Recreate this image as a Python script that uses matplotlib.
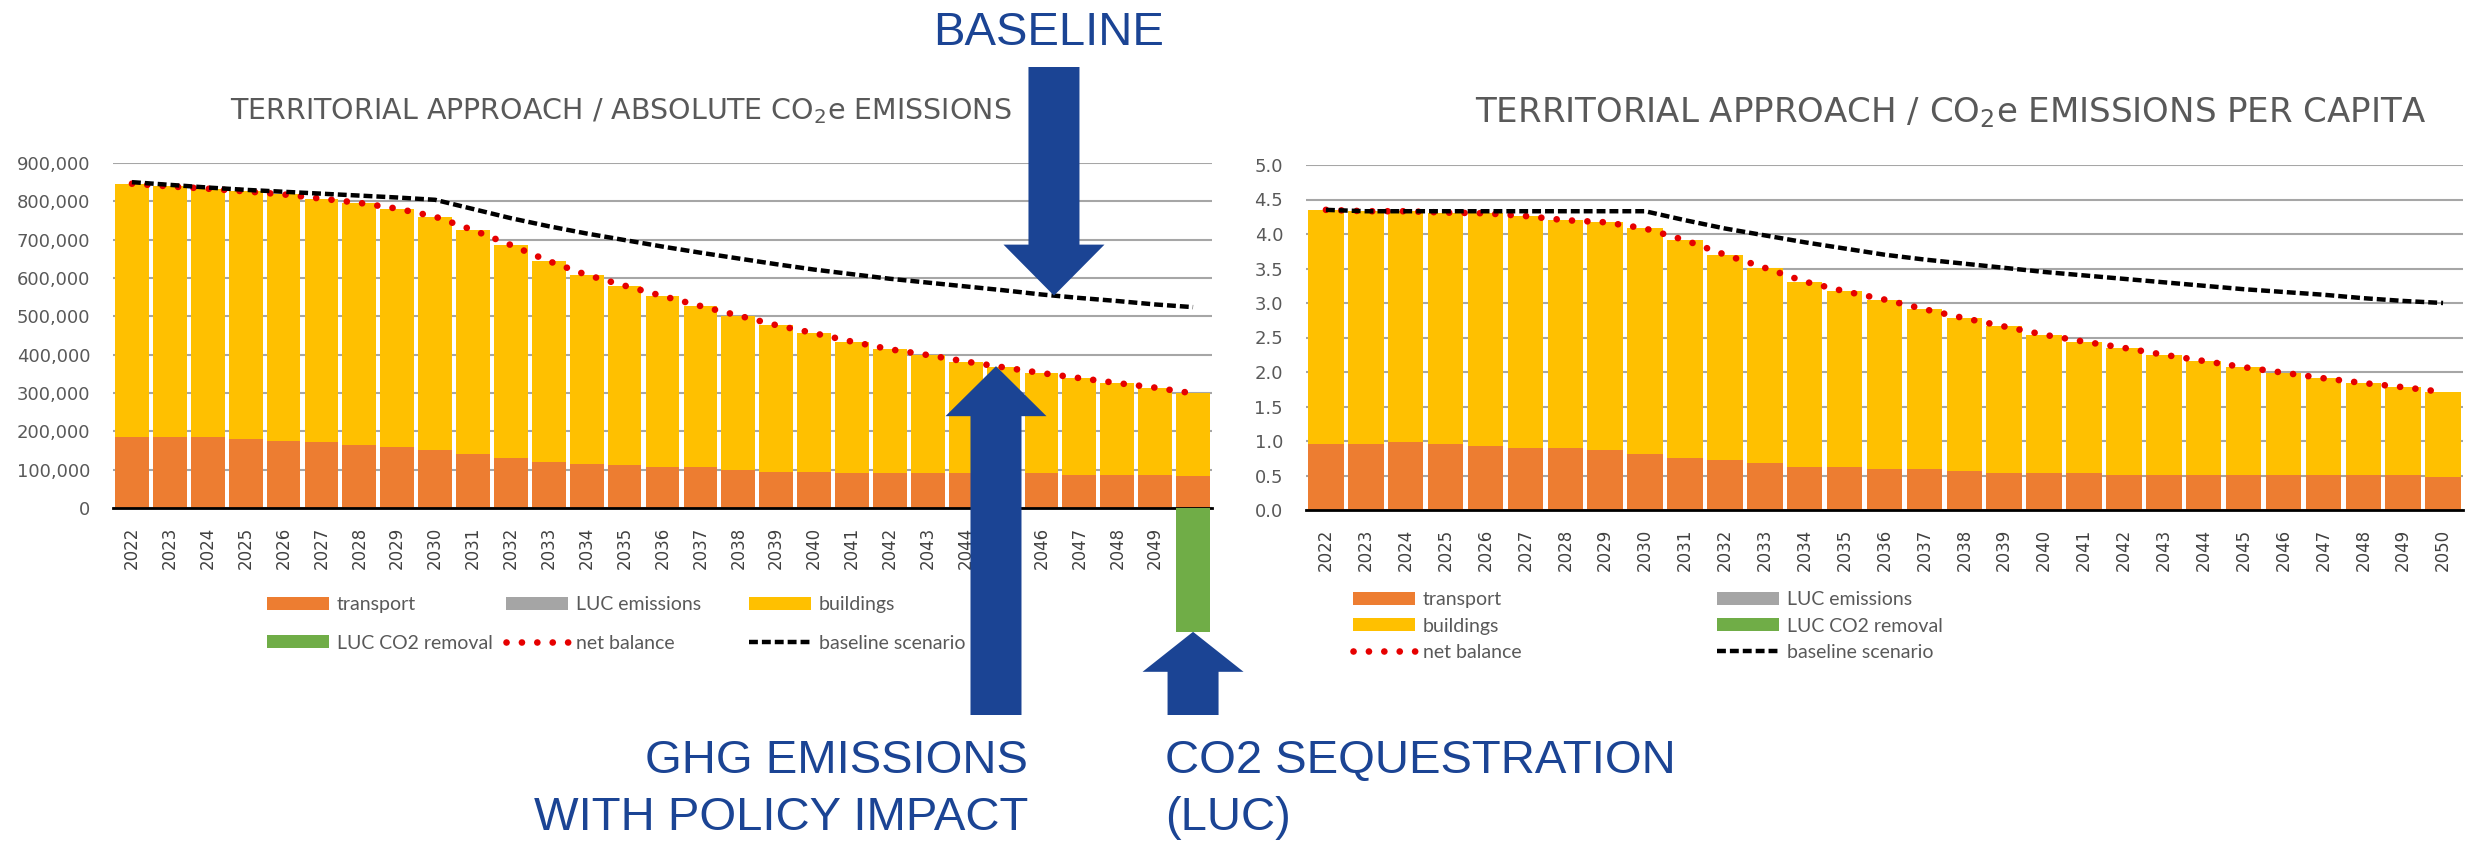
import numpy as np
import matplotlib
matplotlib.use("Agg")
import matplotlib.pyplot as plt
from matplotlib.patches import Patch, Polygon
from matplotlib.lines import Line2D

# --- data -----------------------------------------------------------------
years = [str(y) for y in range(2022, 2051)]

# absolute emissions, t CO2e
abs_transport = [185000, 185000, 184000, 180000, 175000, 171000, 165000, 160000,
                 151000, 141000, 130000, 121000, 115000, 111000, 106000, 106000,
                 100000, 95000, 95000, 91000, 91000, 91000, 91000, 91000, 90000,
                 85000, 85000, 85000, 84000]
abs_buildings = [661000, 654000, 649000, 646000, 643000, 636000, 631000, 621000,
                 609000, 584000, 556000, 523000, 493000, 469000, 447000, 421000,
                 402000, 382000, 361000, 343000, 323000, 308000, 291000, 276000,
                 262000, 254000, 241000, 229000, 215000]
abs_luc_emissions = [0] * 29
abs_luc_removal = [0] * 28 + [-323000]
abs_net_balance = [846000, 839000, 833000, 826000, 818000, 807000, 796000, 781000,
                   760000, 725000, 686000, 644000, 608000, 580000, 553000, 527000,
                   502000, 477000, 456000, 434000, 414000, 399000, 382000, 367000,
                   352000, 339000, 326000, 314000, 299000]
abs_baseline = [850000, 843000, 836000, 830000, 825000, 820000, 815000, 810000,
                804000, 780000, 756000, 735000, 716000, 699000, 682000, 666000,
                651000, 636000, 622000, 610000, 598000, 588000, 578000, 568000,
                557000, 548000, 540000, 531000, 524000]

# per capita emissions, t CO2e / inhabitant
pc_transport = [0.95, 0.95, 0.98, 0.95, 0.93, 0.90, 0.90, 0.87, 0.81, 0.76,
                0.73, 0.68, 0.63, 0.63, 0.60, 0.60, 0.57, 0.54, 0.54, 0.54,
                0.51, 0.51, 0.51, 0.51, 0.51, 0.51, 0.51, 0.51, 0.48]
pc_buildings = [3.40, 3.38, 3.35, 3.36, 3.37, 3.36, 3.30, 3.30, 3.27, 3.15,
                2.97, 2.83, 2.68, 2.54, 2.45, 2.31, 2.21, 2.12, 2.00, 1.90,
                1.84, 1.74, 1.65, 1.56, 1.48, 1.40, 1.33, 1.27, 1.23]
pc_luc_emissions = [0.0] * 29
pc_luc_removal = [0.0] * 29
pc_net_balance = [4.35, 4.33, 4.33, 4.31, 4.30, 4.26, 4.20, 4.17, 4.08, 3.91,
                  3.70, 3.51, 3.31, 3.17, 3.05, 2.91, 2.78, 2.66, 2.54, 2.44,
                  2.35, 2.25, 2.16, 2.07, 1.99, 1.91, 1.84, 1.78, 1.71]
pc_baseline = [4.35, 4.33, 4.33, 4.33, 4.33, 4.33, 4.33, 4.33, 4.33, 4.20,
               4.08, 3.98, 3.88, 3.79, 3.70, 3.63, 3.57, 3.51, 3.45, 3.40,
               3.35, 3.30, 3.25, 3.20, 3.16, 3.12, 3.07, 3.03, 3.00]

# --- styling ----------------------------------------------------------------
W, H = 2478, 843
C_TRANSPORT = "#ED7D31"
C_LUC_EM = "#A5A5A5"
C_BUILDINGS = "#FFC000"
C_LUC_REM = "#70AD47"
C_NET = "#E60000"
C_TEXT = "#595959"
C_NOTE = "#1B4494"

NET_STYLE = dict(color=C_NET, lw=4.8, linestyle=(0, (0.01, 2.3)),
                 dash_capstyle="round", solid_capstyle="round")
BASE_STYLE = dict(color="black", lw=3.2, linestyle=(0, (2.0, 0.9)))

plt.rcParams["font.family"] = ["DejaVu Sans"]


def px(x, y):
    """Image pixel (origin top-left) -> figure fraction."""
    return x / W, 1 - y / H


def draw_panel(ax, transport, luc_em, buildings, luc_rem, net, base, ymax, fmt):
    idx = np.arange(len(years))
    bw = 0.89
    ax.bar(idx, transport, bw, color=C_TRANSPORT, zorder=1)
    bottom = np.array(transport, dtype=float)
    ax.bar(idx, luc_em, bw, bottom=bottom, color=C_LUC_EM, zorder=1)
    bottom = bottom + np.array(luc_em, dtype=float)
    ax.bar(idx, buildings, bw, bottom=bottom, color=C_BUILDINGS, zorder=1)
    # removals hang below the zero line, over the tick labels
    ax.bar(idx, luc_rem, bw, color=C_LUC_REM, zorder=3, clip_on=False)
    ax.plot(idx, net, zorder=4, **NET_STYLE)
    ax.plot(idx, base, zorder=5, **BASE_STYLE)

    ax.set_xlim(-0.5, len(years) - 0.5)
    ax.set_ylim(0, ymax)
    ax.set_xticks(idx)
    ax.set_xticklabels(years, rotation=90, fontsize=12, color="#404040")
    ax.yaxis.set_major_formatter(plt.FuncFormatter(lambda v, _: fmt.format(v)))
    ax.tick_params(axis="x", length=0, pad=13.5)
    ax.tick_params(axis="y", length=0, pad=16.5, labelsize=13, labelcolor=C_TEXT)
    ax.yaxis.grid(True, color="#A6A6A6", lw=1.5)
    ax.set_axisbelow(True)
    for side in ("left", "right", "top"):
        ax.spines[side].set_visible(False)
    ax.spines["bottom"].set_color("black")
    ax.spines["bottom"].set_linewidth(2.0)
    ax.spines["bottom"].set_zorder(2)


def column_legend(fig, items, x, y_top, spacing):
    fs = 14
    fpx = fs * 100 / 72
    handles = [h for h, _ in items]
    labels = [l for _, l in items]
    leg = fig.legend(handles, labels, loc="upper left",
                     bbox_to_anchor=px(x, y_top), frameon=False,
                     borderpad=0, borderaxespad=0,
                     prop=dict(family=["Lato", "DejaVu Sans"], size=fs),
                     handlelength=62 / fpx, handleheight=13 / fpx,
                     handletextpad=8 / fpx,
                     labelspacing=(spacing - 1.05 * fpx) / fpx,
                     labelcolor=C_TEXT)
    return leg


def block_arrow(fig, tip, tail_y, head_len, head_w=101, shaft_w=51):
    x, y = tip
    d = 1 if tail_y > y else -1
    base = y + d * head_len
    pts = [(x, y), (x + head_w / 2, base), (x + shaft_w / 2, base),
           (x + shaft_w / 2, tail_y), (x - shaft_w / 2, tail_y),
           (x - shaft_w / 2, base), (x - head_w / 2, base)]
    poly = Polygon([px(a, b) for a, b in pts], closed=True, facecolor=C_NOTE,
                   edgecolor="none", transform=fig.transFigure, zorder=10)
    fig.add_artist(poly)


def data_to_img(ax, x, y):
    dx, dy = ax.transData.transform((x, y))
    return dx, H - dy


fig = plt.figure(figsize=(W / 100, H / 100), dpi=100)
ax1 = fig.add_axes([113 / W, 1 - 508 / H, 1099 / W, 345 / H])
ax2 = fig.add_axes([1306 / W, 1 - 510 / H, 1157 / W, 345 / H])

draw_panel(ax1, abs_transport, abs_luc_emissions, abs_buildings, abs_luc_removal,
           abs_net_balance, abs_baseline, 900000, "{:,.0f}")
draw_panel(ax2, pc_transport, pc_luc_emissions, pc_buildings, pc_luc_removal,
           pc_net_balance, pc_baseline, 5.0, "{:.1f}")
ax2.set_yticks(np.arange(0, 5.01, 0.5))

fig.text(*px(621, 111), r"TERRITORIAL APPROACH / ABSOLUTE CO$_2$e EMISSIONS",
         ha="center", va="center", fontsize=20.5, color=C_TEXT)
fig.text(*px(1951, 113), r"TERRITORIAL APPROACH / CO$_2$e EMISSIONS PER CAPITA",
         ha="center", va="center", fontsize=24.5, color=C_TEXT)

# legends
h_tr = Patch(facecolor=C_TRANSPORT)
h_le = Patch(facecolor=C_LUC_EM)
h_bu = Patch(facecolor=C_BUILDINGS)
h_lr = Patch(facecolor=C_LUC_REM)
h_net = Line2D([], [], **NET_STYLE)
h_base = Line2D([], [], **BASE_STYLE)

column_legend(fig, [(h_tr, "transport"), (h_lr, "LUC CO2 removal")], 267, 596, 42)
column_legend(fig, [(h_le, "LUC emissions"), (h_net, "net balance")], 506, 596, 42)
column_legend(fig, [(h_bu, "buildings"), (h_base, "baseline scenario")], 749, 596, 42)
column_legend(fig, [(h_tr, "transport"), (h_bu, "buildings"), (h_net, "net balance")],
              1353, 591, 30)
column_legend(fig, [(h_le, "LUC emissions"), (h_lr, "LUC CO2 removal"),
                    (h_base, "baseline scenario")], 1717, 591, 30)

# callout arrows pointing at the series
idx = np.arange(len(years))
x_base = 24.33
tip = data_to_img(ax1, x_base, np.interp(x_base, idx, abs_baseline))
block_arrow(fig, tip, 67, 51)
x_net = 22.8
tip = data_to_img(ax1, x_net, np.interp(x_net, idx, abs_net_balance))
block_arrow(fig, tip, 715, 50)
tip = data_to_img(ax1, idx[-1], abs_luc_removal[-1])
block_arrow(fig, tip, 715, 40)

note = dict(family=["Liberation Sans", "DejaVu Sans"], fontsize=34, color=C_NOTE,
            va="baseline")
fig.text(*px(1049, 45), "BASELINE", ha="center", **note)
fig.text(*px(1028, 773), "GHG EMISSIONS", ha="right", **note)
fig.text(*px(1028, 830), "WITH POLICY IMPACT", ha="right", **note)
fig.text(*px(1165, 773), "CO2 SEQUESTRATION", ha="left", **note)
fig.text(*px(1165, 830), "(LUC)", ha="left", **note)

fig.savefig("out.png", dpi=100)
